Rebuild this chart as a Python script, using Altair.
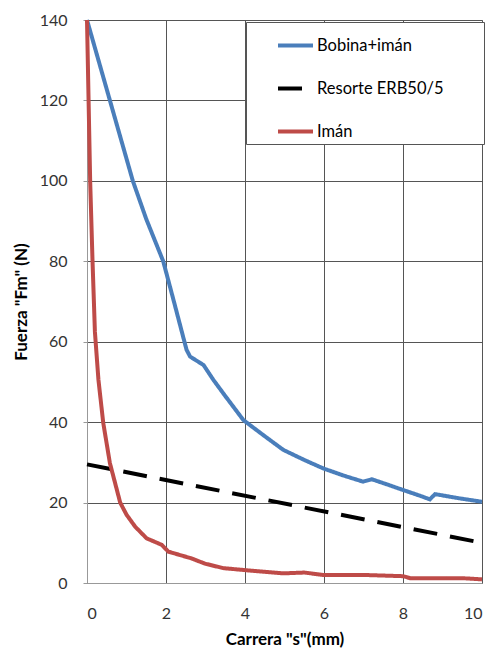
import altair as alt
import pandas as pd

series_names = ["Bobina+imán", "Resorte ERB50/5", "Imán"]
series_colors = ["#4a7ebb", "#000000", "#be4b48"]

bobina_x = [0, 0.58, 1.16, 1.5, 1.93, 2.2, 2.52, 2.61, 2.95, 3.2, 3.5, 3.96, 4.5, 4.97,
            5.5, 5.98, 6.5, 6.99, 7.21, 7.6, 8.01, 8.4, 8.68, 8.81, 9.4, 10.0]
bobina_y = [140, 120, 100, 90.5, 80, 70, 58, 56.3, 54.2, 50.5, 46.5, 40.5, 36.5, 33.1,
            30.6, 28.5, 26.7, 25.2, 25.8, 24.5, 23.1, 21.8, 20.8, 22.1, 21.1, 20.2]

resorte_x = [0, 10]
resorte_y = [29.5, 10]

iman_x = [0, 0.08, 0.14, 0.2, 0.29, 0.41, 0.58, 0.84, 1.0, 1.22, 1.51, 1.89, 2.06, 2.65,
          2.99, 3.45, 4.0, 4.97, 5.5, 5.98, 7.0, 8.0, 8.18, 9.5, 10.0]
iman_y = [140, 100, 80, 62.5, 50.5, 39.9, 29.8, 20, 17, 14, 11.1, 9.5, 7.8, 6.1,
          4.8, 3.7, 3.2, 2.4, 2.6, 2.0, 2.0, 1.7, 1.2, 1.2, 0.9]

x_ticks = [0, 2, 4, 6, 8, 10]
y_ticks = [0, 20, 40, 60, 80, 100, 120, 140]

rows = []
for name, xs, ys in zip(series_names, [bobina_x, resorte_x, iman_x], [bobina_y, resorte_y, iman_y]):
    for i, (xv, yv) in enumerate(zip(xs, ys)):
        rows.append({"serie": name, "s": xv, "F": yv, "orden": i})
df = pd.DataFrame(rows)

FONT = "Lato"

legend = alt.Legend(
    title=None, orient="none", legendX=159, legendY=2,
    symbolType="stroke", symbolSize=1225, symbolStrokeWidth=4,
    labelFont=FONT, labelFontSize=16.5, labelColor="#000", labelOffset=2,
    labelLimit=400,
    labelExpr="datum.label + '\u2800\u2800\u2800'",
    strokeColor="#555", fillColor="white", padding=4, symbolOffset=26,
    rowPadding=15,
)

chart = alt.Chart(df).mark_line(strokeWidth=4).encode(
    x=alt.X("s:Q", scale=alt.Scale(domain=[0, 10], nice=False),
            axis=alt.Axis(values=x_ticks, title='Carrera "s"(mm)', grid=True,
                          gridColor="#555", domainColor="#999", tickSize=0,
                          labelPadding=30, labelBaseline="middle", labelFont=FONT,
                          labelFontSize=16, labelColor="#333", titleFont=FONT,
                          titleFontSize=17, titleFontWeight="bold", titleColor="#000",
                          titleY=56, titleBaseline="middle")),
    y=alt.Y("F:Q", scale=alt.Scale(domain=[0, 140], nice=False),
            axis=alt.Axis(values=y_ticks, title='Fuerza "Fm" (N)', grid=True,
                          gridColor="#555", domainColor="#999", tickSize=4,
                          tickColor="#999", labelPadding=16, labelFont=FONT,
                          labelFontSize=16, labelColor="#333", titleFont=FONT,
                          titleFontSize=17, titleFontWeight="bold", titleColor="#000",
                          titleX=-66, titleBaseline="middle")),
    color=alt.Color("serie:N", scale=alt.Scale(domain=series_names, range=series_colors),
                    legend=legend),
    strokeDash=alt.StrokeDash("serie:N",
                              scale=alt.Scale(domain=series_names, range=[[1, 0], [24, 13], [1, 0]]),
                              legend=legend),
    order="orden:Q",
).properties(
    width=395, height=563,
    autosize=alt.AutoSizeParams(type="none"),
    padding={"left": 79, "top": 12, "right": 3, "bottom": 67},
).configure_view(stroke="#999")

chart.save("out.html", embed_options={"renderer": "svg", "actions": False})
